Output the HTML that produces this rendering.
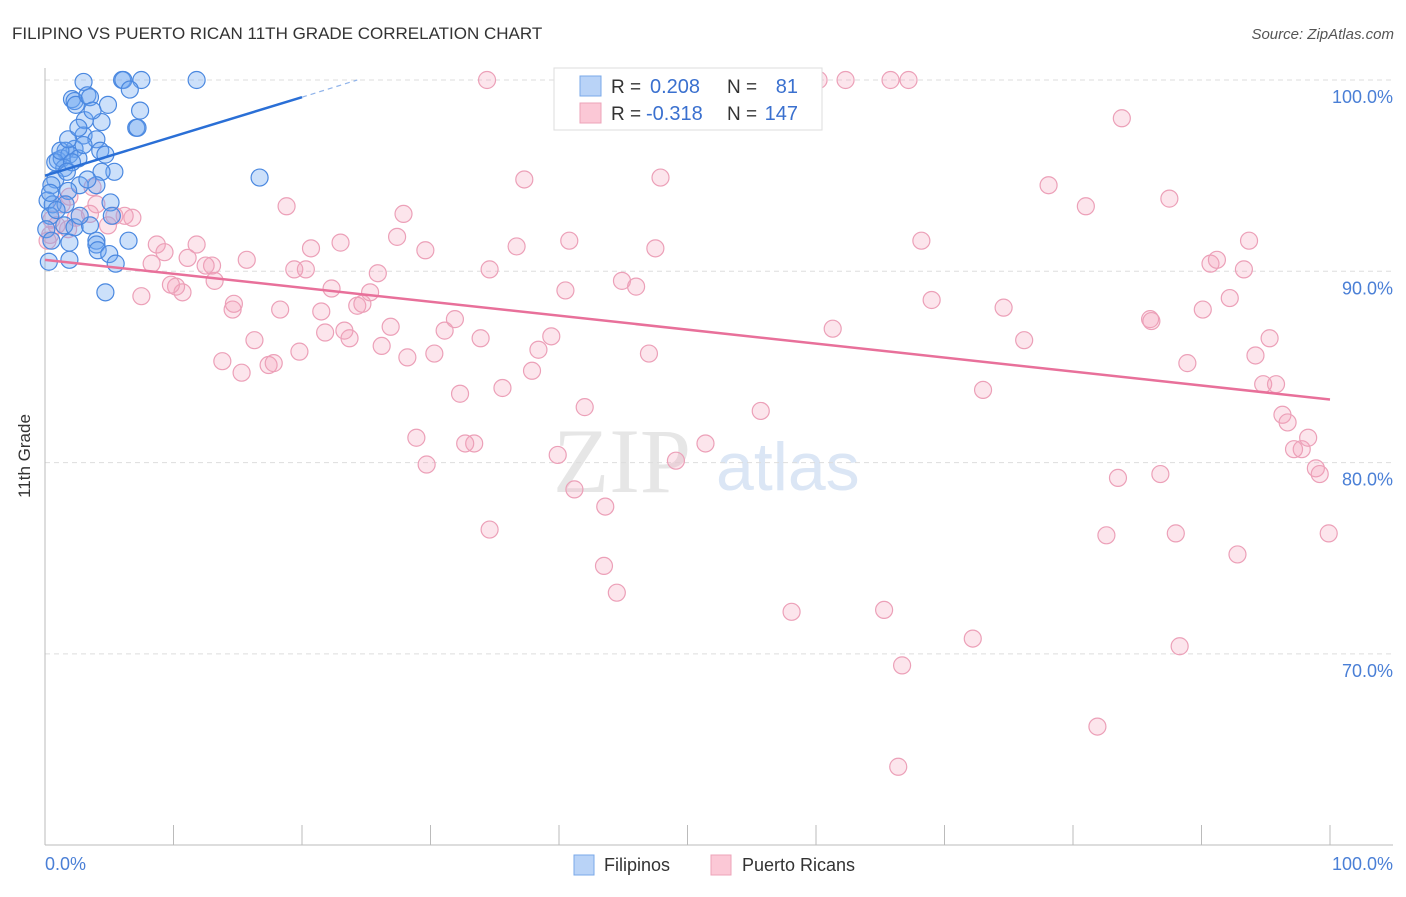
<!DOCTYPE html>
<html><head><meta charset="utf-8"><style>
body{margin:0;background:#fff;font-family:"Liberation Sans",sans-serif}
</style></head><body>
<svg width="1406" height="892" viewBox="0 0 1406 892" xmlns="http://www.w3.org/2000/svg">
<text x="12" y="39" font-size="17" fill="#333">FILIPINO VS PUERTO RICAN 11TH GRADE CORRELATION CHART</text>
<text x="1394" y="39" font-size="15" fill="#555" text-anchor="end" font-style="italic">Source: ZipAtlas.com</text>
<g><text x="553" y="492" font-size="92" font-family="Liberation Serif,serif" fill="#e6e6e6">ZIP</text><text x="716" y="490" font-size="68" fill="#dbe6f5">atlas</text></g>
<g id="grid"></g>
<g id="axes"></g>
<g id="pts"></g>
<g id="trend"></g>
<text x="30" y="456" font-size="17" fill="#333" transform="rotate(-90 30 456)" text-anchor="middle">11th Grade</text>
<text x="45" y="870" font-size="18" fill="#4a7fd6">0.0%</text>
<text x="1393" y="870" font-size="18" fill="#4a7fd6" text-anchor="end">100.0%</text>
<g>
<rect x="554" y="68" width="268" height="62" fill="#fff" stroke="#ddd"/>
<rect x="580" y="76" width="21" height="20" fill="#b9d3f7" stroke="#7aa8e8"/>
<rect x="580" y="103" width="21" height="20" fill="#fbc8d6" stroke="#eca3b8"/>
<text x="611" y="93" font-size="19" fill="#333">R = </text><text x="650" y="93" font-size="20" fill="#3a70cf">0.208</text>
<text x="727" y="93" font-size="19" fill="#333">N = </text><text x="798" y="93" font-size="20" fill="#3a70cf" text-anchor="end">81</text>
<text x="611" y="120" font-size="19" fill="#333">R = </text><text x="646" y="120" font-size="20" fill="#3a70cf">-0.318</text>
<text x="727" y="120" font-size="19" fill="#333">N = </text><text x="798" y="120" font-size="20" fill="#3a70cf" text-anchor="end">147</text>
</g>
<g>
<rect x="574" y="855" width="20" height="20" fill="#b9d3f7" stroke="#7aa8e8"/>
<text x="604" y="871" font-size="18" fill="#333">Filipinos</text>
<rect x="711" y="855" width="20" height="20" fill="#fbc8d6" stroke="#eca3b8"/>
<text x="742" y="871" font-size="18" fill="#333">Puerto Ricans</text>
</g>
</svg>
<script>
const yTicks=[100,90,80,70];
const yTickLabels=["100.0%","90.0%","80.0%","70.0%"];
const xTicks=[0,10,20,30,40,50,60,70,80,90,100];
const blueX=[3.0,6.0,6.1,7.5,11.8,6.6,2.1,2.3,2.4,3.3,3.5,4.9,7.4,3.1,4.4,3.0,7.1,7.2,4.0,2.3,1.6,1.0,1.3,1.9,1.5,0.8,2.6,3.0,4.3,4.7,5.4,4.4,4.0,2.7,1.8,0.8,0.5,0.2,0.6,1.6,0.4,0.9,1.5,1.9,2.3,3.5,4.0,5.1,6.5,2.7,4.0,4.1,5.0,5.5,1.9,0.3,4.7,16.7,1.2,1.8,2.6,3.7,0.4,0.1,0.5,5.2,3.3,2.1,1.7];
const blueY=[99.9,100,100,100,100,99.5,99.0,98.9,98.7,99.2,99.1,98.7,98.4,97.9,97.8,97.1,97.5,97.5,96.9,96.4,96.3,95.8,95.9,96.1,95.4,95.7,95.9,96.6,96.3,96.1,95.2,95.2,94.5,94.5,94.2,94.8,94.5,93.7,93.5,93.5,92.9,93.2,92.4,91.5,92.3,92.4,91.6,93.6,91.6,92.9,91.4,91.1,90.9,90.4,90.6,90.5,88.9,94.9,96.3,96.9,97.5,98.4,94.1,92.2,91.6,92.9,94.8,95.7,95.2];
const pinkX=[34.4,48.4,50.2,57.2,59.5,60.2,62.3,65.8,67.2,83.8,48.5,37.3,47.9,18.8,27.9,78.1,81.0,87.5,68.2,93.7,90.7,91.2,93.3,92.2,90.1,74.6,69.0,61.3,76.2,86.0,86.1,88.9,94.2,95.3,94.8,95.8,96.3,96.7,97.8,98.3,97.2,98.9,99.2,99.9,92.8,88.0,86.8,83.5,82.6,88.3,81.9,72.2,66.7,66.4,65.3,58.1,55.7,73.0,51.4,49.1,44.5,43.5,43.6,41.2,39.9,42.0,39.4,38.4,37.9,35.6,34.6,33.4,32.7,32.3,29.7,28.9,28.2,30.3,31.1,31.9,33.9,34.6,36.7,40.5,40.8,44.9,46.0,47.5,47.0,29.6,27.4,25.9,24.3,24.7,25.3,26.2,26.9,23.7,23.3,23.0,22.3,21.5,21.8,20.7,20.3,19.4,18.3,19.8,17.4,17.8,16.3,15.3,13.8,14.6,14.7,15.7,13.2,13.0,12.5,11.8,11.1,10.7,10.2,9.8,8.7,9.3,8.3,7.5,6.8,6.2,5.4,4.9,4.0,3.5,2.4,1.8,1.3,0.9,0.4,0.2,0.5,3.7,1.9];
const pinkY=[100,100,100,100,100,100,100,100,100,98.0,99.0,94.8,94.9,93.4,93.0,94.5,93.4,93.8,91.6,91.6,90.4,90.6,90.1,88.6,88.0,88.1,88.5,87.0,86.4,87.5,87.4,85.2,85.6,86.5,84.1,84.1,82.5,82.1,80.7,81.3,80.7,79.7,79.4,76.3,75.2,76.3,79.4,79.2,76.2,70.4,66.2,70.8,69.4,64.1,72.3,72.2,82.7,83.8,81.0,80.1,73.2,74.6,77.7,78.6,80.4,82.9,86.6,85.9,84.8,83.9,76.5,81.0,81.0,83.6,79.9,81.3,85.5,85.7,86.9,87.5,86.5,90.1,91.3,89.0,91.6,89.5,89.2,91.2,85.7,91.1,91.8,89.9,88.2,88.3,88.9,86.1,87.1,86.5,86.9,91.5,89.1,87.9,86.8,91.2,90.1,90.1,88.0,85.8,85.1,85.2,86.4,84.7,85.3,88.0,88.3,90.6,89.5,90.3,90.3,91.4,90.7,88.9,89.2,89.3,91.4,91.0,90.4,88.7,92.8,92.9,92.9,92.4,93.5,93.0,92.8,92.2,93.5,92.4,91.9,91.6,92.7,94.4,93.9];
const blueTrend=[0,95.0,20,99.1,24.3,100];
const pinkTrend=[0,90.6,100,83.3];
const X=v=>45+v*12.85, Y=v=>80+(100-v)*19.13;
const NS="http://www.w3.org/2000/svg";
function mk(tag,attrs,parent){const e=document.createElementNS(NS,tag);for(const k in attrs)e.setAttribute(k,attrs[k]);parent.appendChild(e);return e;}
const grid=document.getElementById('grid'),axes=document.getElementById('axes'),pts=document.getElementById('pts'),trend=document.getElementById('trend');
yTicks.forEach((t,i)=>{
 const l=mk('line',{x1:45,x2:1393,y1:Y(t),y2:Y(t),stroke:'#ddd','stroke-dasharray':'5,4'},grid);
 
 
 const tx=mk('text',{x:1393,y:Y(t)+23,'font-size':18,fill:'#4a7fd6','text-anchor':'end'},grid);
 tx.textContent=yTickLabels[i];
 
 
});
const ax=mk('line',{x1:45,x2:45,y1:68,y2:845,stroke:'#bbb'},axes);


const bx=mk('line',{x1:45,x2:1393,y1:845,y2:845,stroke:'#bbb'},axes);


xTicks.forEach(t=>{
 const l=mk('line',{x1:X(t),x2:X(t),y1:825,y2:845,stroke:'#bbb'},axes);
 
 
});
pinkX.forEach((v,i)=>{
 const c=mk('circle',{cx:X(v),cy:Y(pinkY[i]),r:8.5,fill:'rgba(244,160,188,0.28)',stroke:'#eca0b8','stroke-width':1.2},pts);
 
 
});
blueX.forEach((v,i)=>{
 const c=mk('circle',{cx:X(v),cy:Y(blueY[i]),r:8.5,fill:'rgba(110,165,240,0.35)',stroke:'#4a88e0','stroke-width':1.2},pts);
 
 
});
const bl=mk('line',{x1:X(blueTrend[0]),y1:Y(blueTrend[1]),x2:X(blueTrend[2]),y2:Y(blueTrend[3]),stroke:'#2a6fd6','stroke-width':2.5},trend);


const bd=mk('line',{x1:X(blueTrend[2]),y1:Y(blueTrend[3]),x2:X(blueTrend[4]),y2:Y(blueTrend[5]),stroke:'#8fb3ea','stroke-width':1.2,'stroke-dasharray':'5,4'},trend);


const pl=mk('line',{x1:X(pinkTrend[0]),y1:Y(pinkTrend[1]),x2:X(pinkTrend[2]),y2:Y(pinkTrend[3]),stroke:'#e8709a','stroke-width':2.5},trend);


</script>
</body></html>
